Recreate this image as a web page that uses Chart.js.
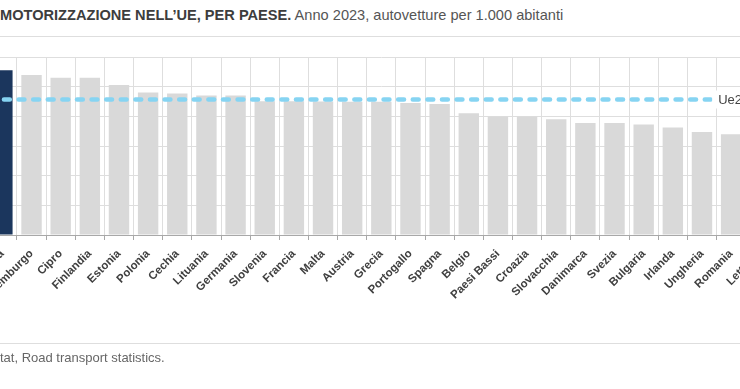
<!DOCTYPE html>
<html lang="it">
<head>
<meta charset="utf-8">
<script src="https://cdn.jsdelivr.net/npm/chart.js@4.4.1/dist/chart.umd.min.js"></script>
<style>
  html, body { margin: 0; padding: 0; width: 740px; height: 389px; overflow: hidden; background: #fff; }
  body { position: relative; font-family: 'Liberation Sans', Arial, sans-serif; }
  #titolo { position: absolute; left: 0; top: 7px; font-size: 14.6px; color: #555; white-space: nowrap; }
  #titolo b { color: #3d3d3d; }
  #riga-alto { position: absolute; left: 0; top: 36px; width: 740px; height: 1px; background: #dedede; }
  #riga-basso { position: absolute; left: 0; top: 343px; width: 740px; height: 1px; background: #dedede; }
  #fonte { position: absolute; left: 0; top: 350px; font-size: 13px; color: #666; white-space: nowrap; }
  #box { position: absolute; left: -40px; top: 0; width: 860px; height: 389px; }
</style>
</head>
<body>
<div id="titolo"><b>MOTORIZZAZIONE NELL’UE, PER PAESE.</b> Anno 2023, autovetture per 1.000 abitanti</div>
<div id="riga-alto"></div>
<div id="box"><canvas id="motorizzazioneChart"></canvas></div>
<div id="riga-basso"></div>
<div id="fonte">tat, Road transport statistics.</div>
<script>
// Dati: autovetture per 1.000 abitanti, anno 2023
const paesi = ['Italia', 'Lussemburgo', 'Cipro', 'Finlandia', 'Estonia', 'Polonia', 'Cechia', 'Lituania',
    'Germania', 'Slovenia', 'Francia', 'Malta', 'Austria', 'Grecia', 'Portogallo', 'Spagna', 'Belgio',
    'Paesi Bassi', 'Croazia', 'Slovacchia', 'Danimarca', 'Svezia', 'Bulgaria', 'Irlanda', 'Ungheria',
    'Romania', 'Lettonia'];
const autovetture = [694, 674, 663, 663, 632, 600, 596, 588, 588, 564, 564, 562, 561, 561, 556, 552, 513,
    499, 499, 488, 472, 472, 466, 453, 434, 425, 410];
const ue27 = 571;
const ue27Etichetta = 'Ue27';
const yMin = 0, yMax = 750, yPasso = 125;

const blu = '#1b365d';
const grigio = '#d9d9d9';

// Linea tratteggiata della media Ue27 con etichetta
const lineaUe = {
    id: 'lineaUe',
    afterDatasetsDraw(chart) {
        const { ctx, chartArea, scales: { y } } = chart;
        const py = y.getPixelForValue(ue27);
        ctx.save();
        ctx.strokeStyle = '#86d4f2';
        ctx.lineWidth = 4.6;
        ctx.lineCap = 'round';
        ctx.setLineDash([5.8, 8.8]);
        ctx.lineDashOffset = -1.6;
        ctx.beginPath();
        ctx.moveTo(chartArea.left, py);
        ctx.lineTo(chartArea.right, py);
        ctx.stroke();
        // box bianco dell'etichetta, dopo la barra dell'Ungheria
        const meta = chart.getDatasetMeta(0);
        const barra = meta.data[paesi.length - 3];
        const bx = barra.x + barra.width / 2;
        ctx.setLineDash([]);
        ctx.fillStyle = '#ffffff';
        ctx.fillRect(bx, py - 9, chartArea.right - bx, 18);
        ctx.fillStyle = '#444';
        ctx.font = '13px "Liberation Sans", Arial, sans-serif';
        ctx.textBaseline = 'middle';
        ctx.fillText(ue27Etichetta, bx + 6, py + 0.5);
        ctx.restore();
    }
};

Chart.defaults.font.family = '"Liberation Sans", Arial, sans-serif';

const ctx = document.getElementById('motorizzazioneChart').getContext('2d');
new Chart(ctx, {
    type: 'bar',
    data: {
        labels: paesi,
        datasets: [{
            label: 'Autovetture per 1.000 abitanti',
            data: autovetture,
            backgroundColor: paesi.map(p => p === 'Italia' ? blu : grigio),
            borderWidth: 0,
            barPercentage: 0.7,
            categoryPercentage: 1
        }]
    },
    options: {
        responsive: true,
        maintainAspectRatio: false,
        animation: false,
        layout: {
            padding: { top: 57, left: 27.8, right: 45.15, bottom: 54 }
        },
        scales: {
            x: {
                grid: {
                    color: '#dedede',
                    tickColor: '#a8a8a8',
                    tickLength: 5,
                    offset: true
                },
                border: { color: '#a8a8a8' },
                ticks: {
                    color: '#404040',
                    font: { size: 11.5, weight: 'bold' },
                    minRotation: 45,
                    maxRotation: 45,
                    autoSkip: false,
                    padding: 7
                },
                afterFit: (s) => { s.height = 100; }
            },
            y: {
                min: yMin,
                max: yMax,
                ticks: { stepSize: yPasso, display: false },
                grid: { color: '#dedede', drawTicks: false },
                border: { display: false },
                afterFit: (s) => { s.width = 0; }
            }
        },
        plugins: {
            legend: { display: false },
            tooltip: { enabled: false }
        }
    },
    plugins: [lineaUe]
});
</script>
</body>
</html>
